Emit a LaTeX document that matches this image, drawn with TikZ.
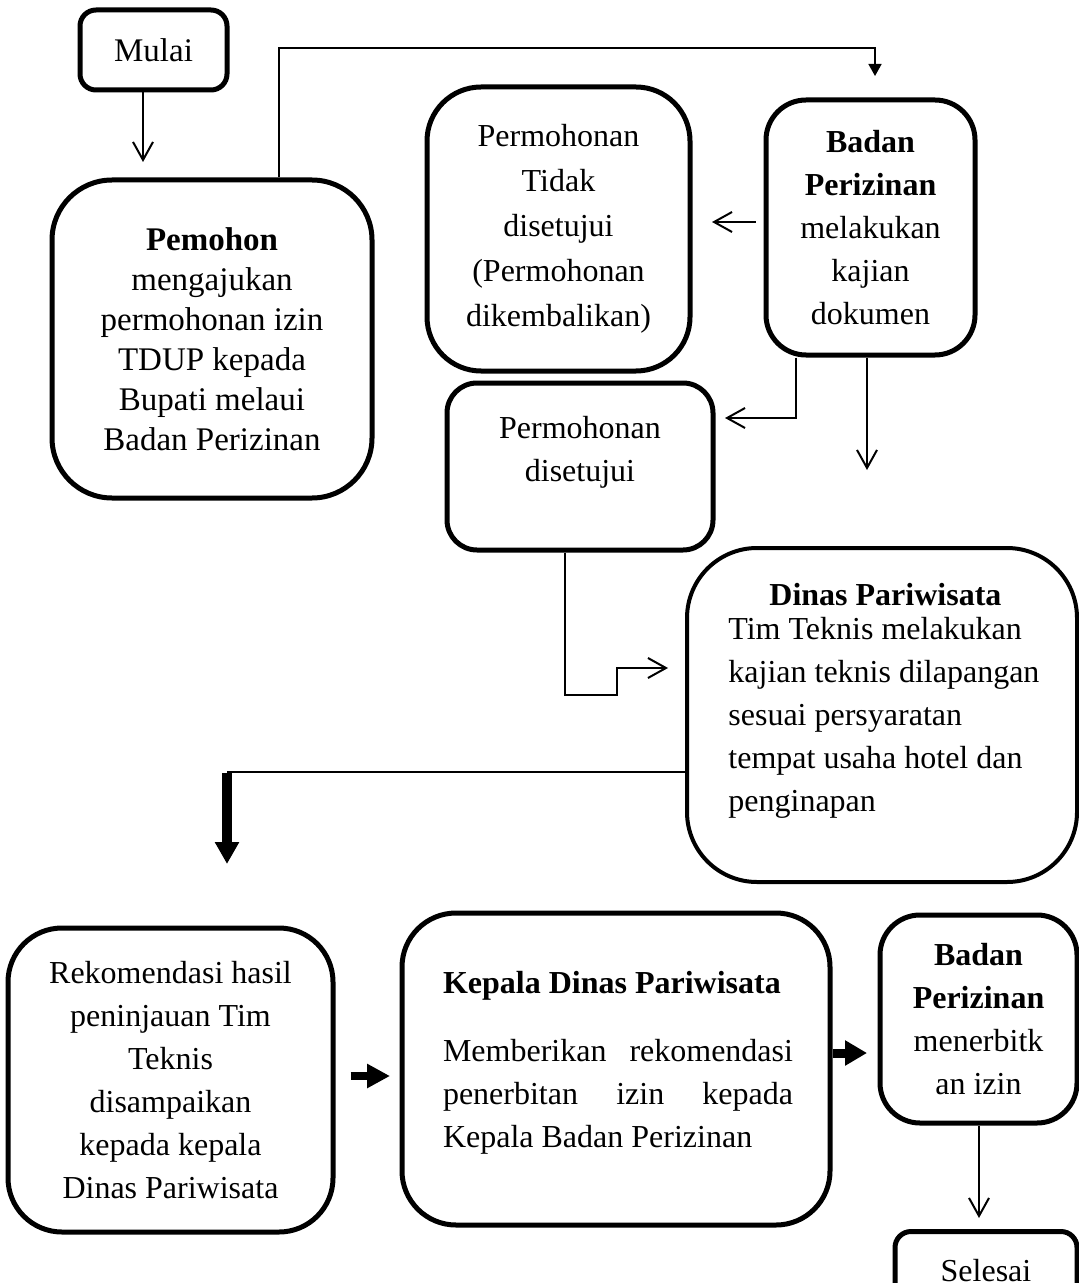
\documentclass[tikz,border=0pt]{standalone}
\usepackage{fontspec}
\setmainfont{Liberation Serif}
\usetikzlibrary{arrows.meta}
\newcommand\myfz{\fontsize{16pt}{21.5pt}\selectfont}
\begin{document}
\begin{tikzpicture}[x=0.5pt,y=-0.5pt,
  box/.style={draw, line width=2.5pt, rounded corners=#1, align=center, inner sep=0pt, font=\myfz},
  con/.style={line width=1pt, -{Straight Barb[length=9pt,width=10pt]}},
  txt/.style={font=\myfz, inner sep=0pt},
]
\useasboundingbox (0,0) rectangle (1079,1283);
\clip (0,0) rectangle (1079,1283);

% boxes
\node[box=8pt, minimum width=73.5pt, minimum height=40pt, font=\fontsize{16.5pt}{20pt}\selectfont] (mulai) at (153.5,50) {Mulai};
\node[box=30pt, minimum width=160pt, minimum height=159pt, font=\fontsize{16.5pt}{20pt}\selectfont] (pemohon) at (212,339)
  {\textbf{Pemohon}\\mengajukan\\permohonan izin\\TDUP kepada\\Bupati melaui\\Badan Perizinan};
\node[box=27pt, minimum width=131.5pt, minimum height=142pt, font=\fontsize{16pt}{22.5pt}\selectfont] (tidak) at (558.5,229)
  {Permohonan\\Tidak\\disetujui\\(Permohonan\\dikembalikan)};
\node[box=20pt, minimum width=104.5pt, minimum height=127.5pt] (badan1) at (870.5,227.5)
  {\textbf{Badan}\\\textbf{Perizinan}\\melakukan\\kajian\\dokumen};
\node[box=15pt, minimum width=133pt, minimum height=83.5pt] (setuju) at (580,466.5) {};
\node[txt, align=center] (setujuT) at (580,452) {Permohonan\\disetujui};
\node[box=35pt, line width=2pt, minimum width=195pt, minimum height=167pt] (dinas) at (882,715) {};
\node[txt, text width=165pt, align=flush left, anchor=west] (dinasT) at (728,701)
  {\makebox[157pt]{\bfseries Dinas Pariwisata}\\[-4.5pt]Tim Teknis melakukan\\kajian teknis dilapangan\\sesuai persyaratan\\tempat usaha hotel dan\\penginapan};
\node[box=27pt, minimum width=162.5pt, minimum height=152pt] (rekom) at (170.5,1080)
  {Rekomendasi hasil\\peninjauan Tim\\Teknis\\disampaikan\\kepada kepala\\Dinas Pariwisata};
\node[box=27pt, minimum width=214pt, minimum height=156pt] (kepala) at (616,1069) {};
\node[txt, text width=175pt, align=justify] (kepalaT) at (618,1063)
  {\textbf{Kepala Dinas Pariwisata}\par\vspace{12.5pt}Memberikan rekomendasi\linebreak penerbitan izin kepada\linebreak Kepala Badan Perizinan};
\node[box=20pt, minimum width=98.5pt, minimum height=104pt] (badan2) at (978.5,1019)
  {\textbf{Badan}\\\textbf{Perizinan}\\menerbitk\\an izin};
\node[box=8pt, minimum width=91pt, minimum height=39.5pt] (selesai) at (986,1271) {Selesai};

% coordinates
\coordinate (m1) at (143,162);
\coordinate (p1) at (279,48);
\coordinate (p2) at (875,48);
\coordinate (p3) at (875,76);
\coordinate (t1) at (712,222);
\coordinate (s1) at (796,418);
\coordinate (s2) at (725,418);
\coordinate (d1) at (867,470);
\coordinate (q1) at (565,695);
\coordinate (q2) at (617,695);
\coordinate (q3) at (617,668);
\coordinate (q4) at (668,668);
\coordinate (k1) at (227,772);
\coordinate (k2) at (227,864);
\coordinate (r1) at (390,1076);
\coordinate (b2) at (867,1053);
\coordinate (e1) at (979,1218);

% connectors
\draw[con] (mulai.south -| m1) -- (m1);
\draw[line width=0.8pt, -{Triangle[length=6pt,width=6.5pt]}] (pemohon.north -| p1) -- (p1) -- (p2) -- (p3);
\draw[con, shorten <=4pt] (badan1.west |- t1) -- (t1);
\draw[con] (badan1.south -| s1) -- (s1) -- (s2);
\draw[con] (badan1.south -| d1) -- (d1);
\draw[con] (setuju.south -| q1) -- (q1) -- (q2) -- (q3) -- (q4);
\draw[line width=1pt] (dinas.west |- k1) -- (k1);
\draw[line width=5pt, -{Triangle[length=11pt,width=11.5pt]}] ([yshift=-0.5pt]k1) -- (k2);
\draw[line width=4pt, -{Triangle[length=11.5pt,width=11.5pt]}, shorten <=7.5pt] (rekom.east |- r1) -- (r1);
\draw[line width=4.5pt, -{Triangle[length=11pt,width=12pt]}] (kepala.east |- b2) -- (b2);
\draw[con] (badan2.south -| e1) -- (e1);
\end{tikzpicture}
\end{document}
